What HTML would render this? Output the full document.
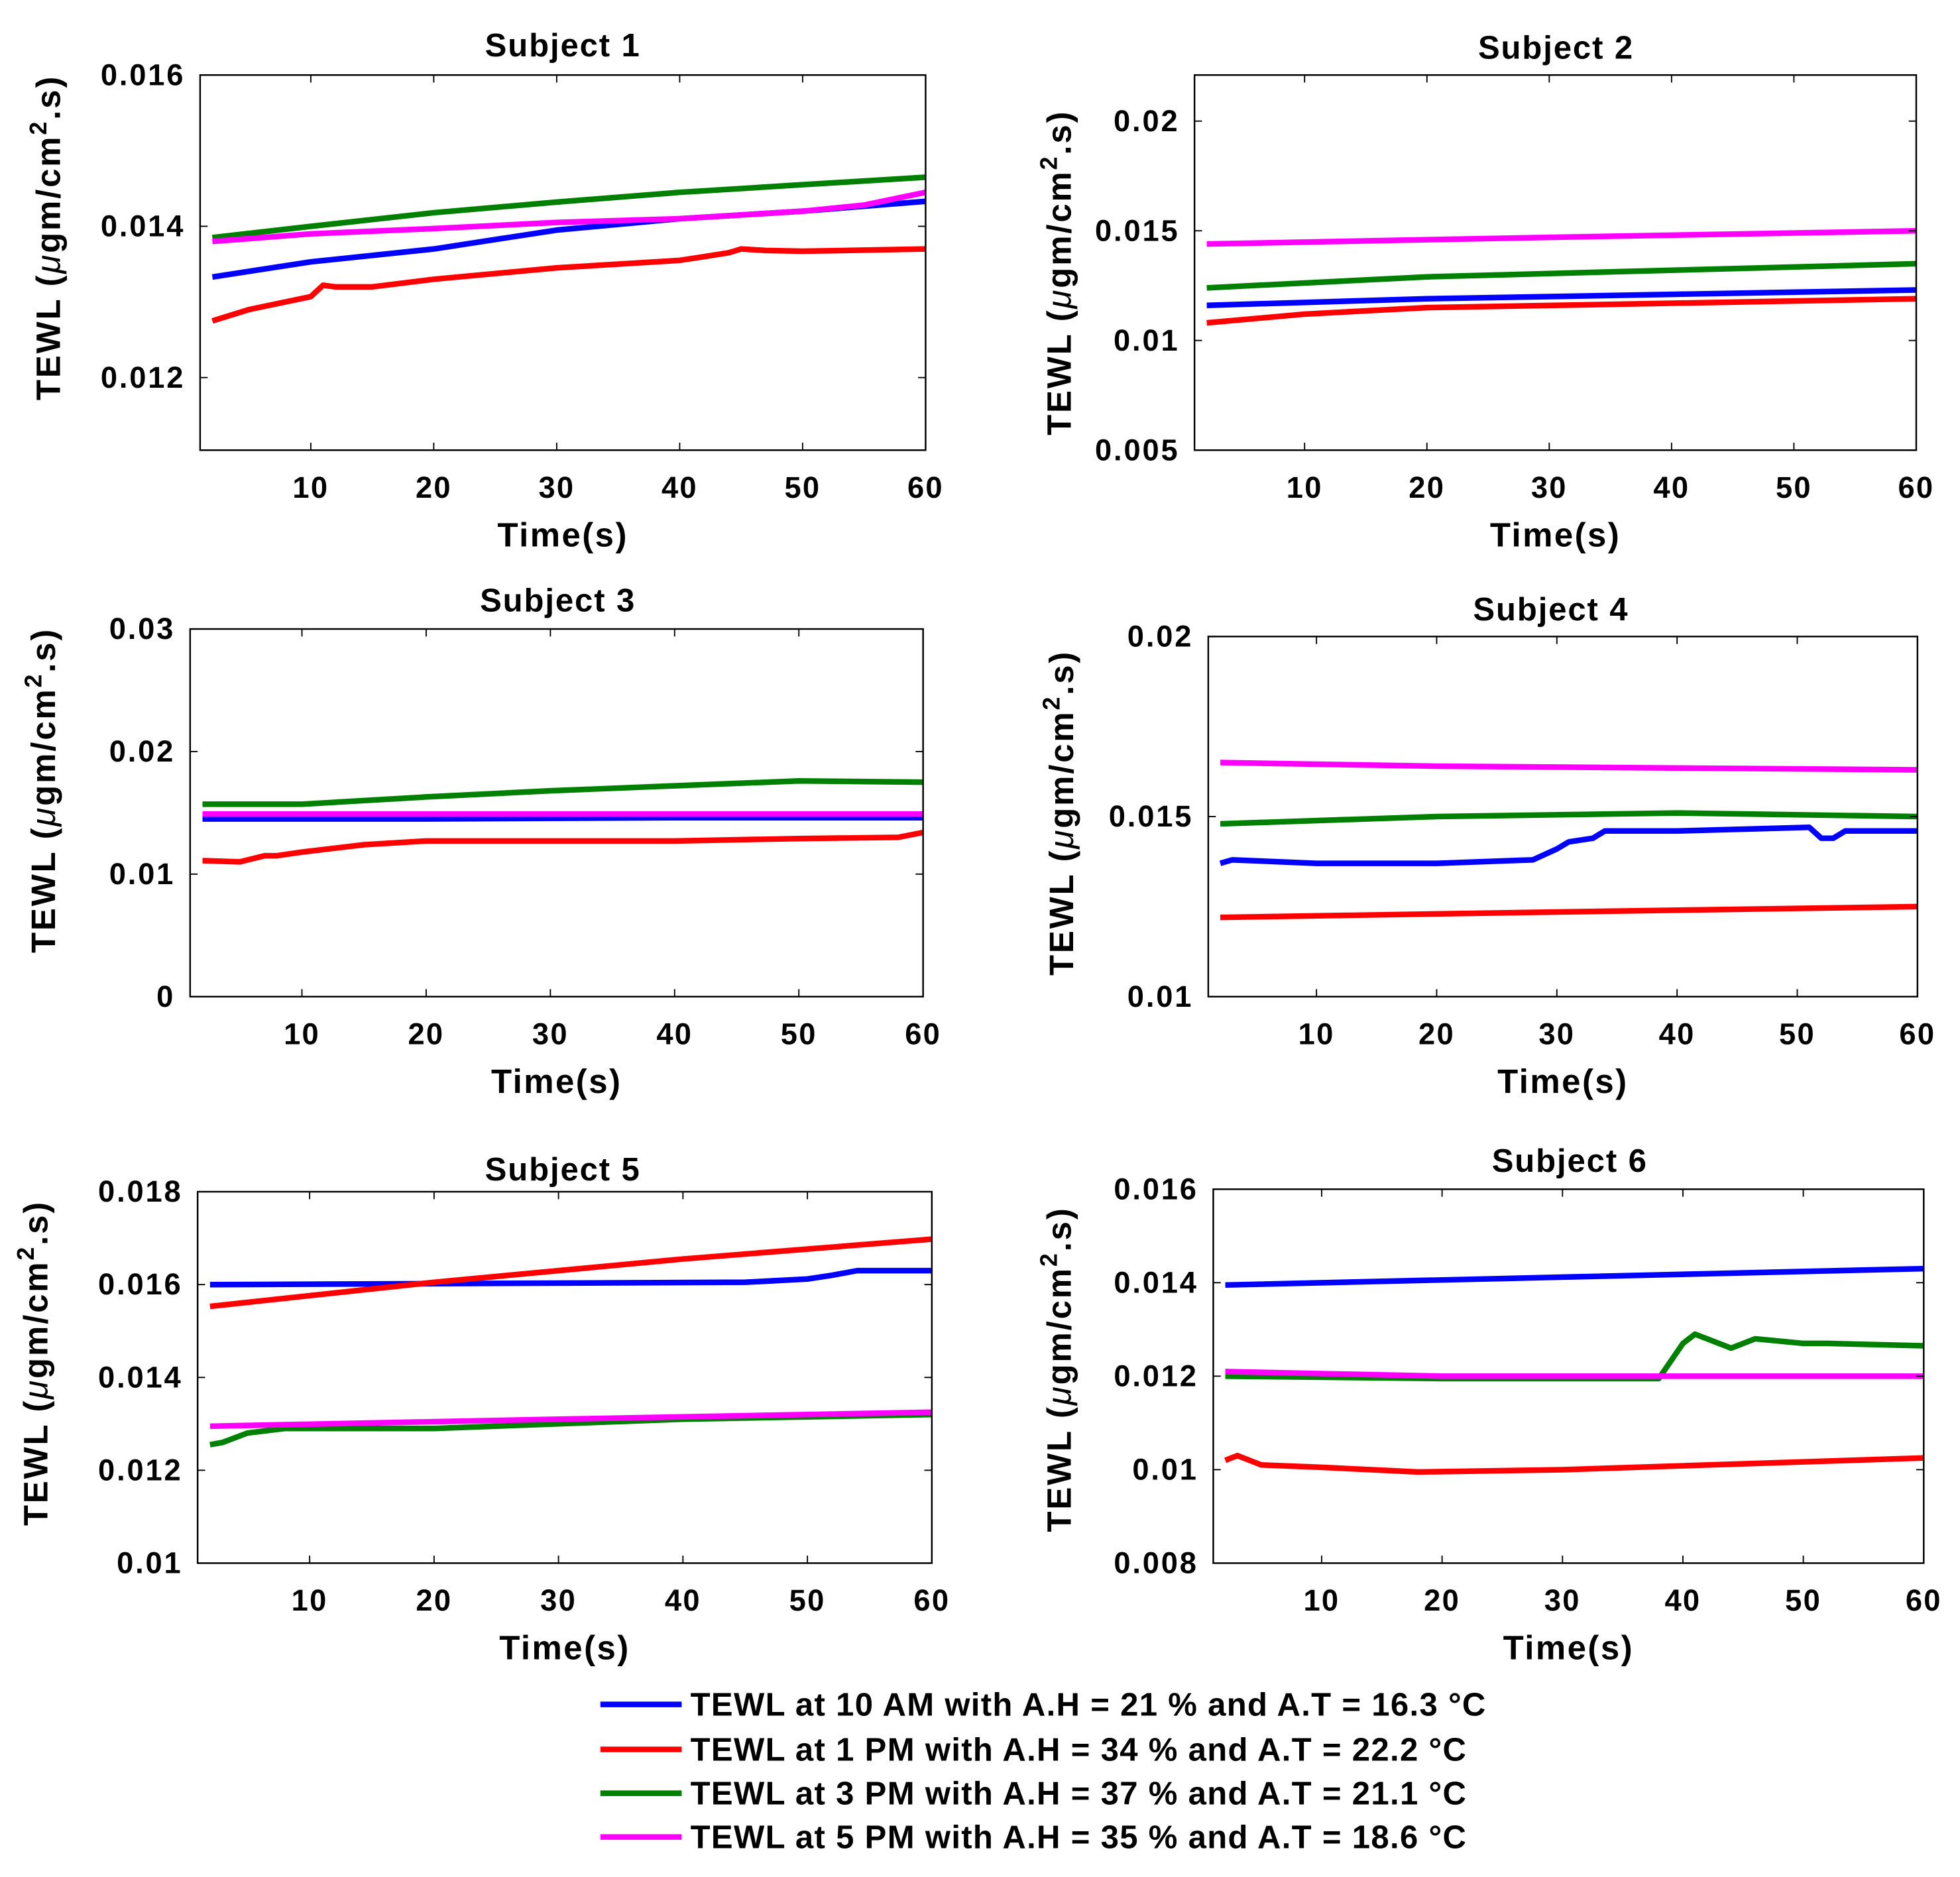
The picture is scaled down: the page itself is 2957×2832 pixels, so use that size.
<!DOCTYPE html>
<html><head><meta charset="utf-8">
<style>
html,body{margin:0;padding:0;background:#fff;}
svg{display:block;font-family:"Liberation Sans",Arial,sans-serif;font-weight:bold;}
</style></head>
<body>
<svg id="fig" width="2957" height="2832" viewBox="0 0 1567 1501" preserveAspectRatio="none" xmlns="http://www.w3.org/2000/svg"></svg>
<script>
// ---- data ----
const subjectTitles = ["Subject 1","Subject 2","Subject 3","Subject 4","Subject 5","Subject 6"];
const seriesColors = ["#0000ff","#ff0000","#008000","#ff00ff"];
const legendLabels = ["TEWL at 10 AM with A.H = 21 % and A.T = 16.3 \u00B0C","TEWL at 1 PM with A.H = 34 % and A.T = 22.2 \u00B0C","TEWL at 3 PM with A.H = 37 % and A.T = 21.1 \u00B0C","TEWL at 5 PM with A.H = 35 % and A.T = 18.6 \u00B0C"];
const xTicks = [10,20,30,40,50,60];
const yTicks1 = [0.012,0.014,0.016];
const yTicks2 = [0.005,0.01,0.015,0.02];
const yTicks3 = [0,0.01,0.02,0.03];
const yTicks4 = [0.01,0.015,0.02];
const yTicks5 = [0.01,0.012,0.014,0.016,0.018];
const yTicks6 = [0.008,0.01,0.012,0.014,0.016];
const yDomains = [[0.01104,0.016],[0.005,0.0221],[0,0.03],[0.01,0.02],[0.01,0.018],[0.008,0.016]];

// Subject 1
const s1BlueX=[2,10,20,30,40,50,60], s1BlueY=[0.01333,0.01353,0.0137,0.01395,0.0141,0.0142,0.01433];
const s1RedX=[2,5,10,11,12,15,20,30,40,42,44,45,47,50,60], s1RedY=[0.01275,0.0129,0.01307,0.01322,0.0132,0.0132,0.0133,0.01345,0.01355,0.0136,0.01365,0.0137,0.01368,0.01367,0.0137];
const s1GreenX=[2,10,20,30,40,50,60], s1GreenY=[0.01385,0.014,0.01418,0.01432,0.01445,0.01455,0.01465];
const s1MagX=[2,10,20,30,40,50,55,60], s1MagY=[0.0138,0.0139,0.01397,0.01405,0.0141,0.0142,0.01428,0.01445];
// Subject 2
const s2BlueX=[2,20,40,60], s2BlueY=[0.0116,0.0119,0.0121,0.0123];
const s2RedX=[2,10,20,40,60], s2RedY=[0.0108,0.0112,0.0115,0.0117,0.0119];
const s2GreenX=[2,20,40,60], s2GreenY=[0.0124,0.0129,0.0132,0.0135];
const s2MagX=[2,30,60], s2MagY=[0.0144,0.0147,0.015];
// Subject 3
const s3BlueX=[2,20,40,60], s3BlueY=[0.0145,0.0145,0.0146,0.0146];
const s3RedX=[2,5,7,8,10,15,20,30,40,50,58,60], s3RedY=[0.0111,0.011,0.0115,0.0115,0.0118,0.0124,0.0127,0.0127,0.0127,0.0129,0.013,0.0134];
const s3GreenX=[2,10,20,30,40,50,60], s3GreenY=[0.0157,0.0157,0.0163,0.0168,0.0172,0.0176,0.0175];
const s3MagX=[2,30,60], s3MagY=[0.0149,0.0149,0.0149];
// Subject 4
const s4BlueX=[2,3,10,20,28,30,31,33,34,40,51,52,53,54,60], s4BlueY=[0.0137,0.0138,0.0137,0.0137,0.0138,0.0141,0.0143,0.0144,0.0146,0.0146,0.0147,0.0144,0.0144,0.0146,0.0146];
const s4RedX=[2,30,60], s4RedY=[0.0122,0.01235,0.0125];
const s4GreenX=[2,20,40,60], s4GreenY=[0.0148,0.015,0.0151,0.015];
const s4MagX=[2,20,60], s4MagY=[0.0165,0.0164,0.0163];
// Subject 5
const s5BlueX=[2,45,50,52,54,60], s5BlueY=[0.016,0.01605,0.01612,0.0162,0.0163,0.0163];
const s5RedX=[2,20,40,60], s5RedY=[0.01553,0.01605,0.01655,0.01698];
const s5GreenX=[2,3,5,8,20,40,60], s5GreenY=[0.01255,0.0126,0.0128,0.0129,0.0129,0.0131,0.0132];
const s5MagX=[2,30,60], s5MagY=[0.01295,0.0131,0.01325];
// Subject 6
const s6BlueX=[2,30,60], s6BlueY=[0.01395,0.01412,0.0143];
const s6RedX=[2,3,5,10,18,30,60], s6RedY=[0.0102,0.0103,0.0101,0.01005,0.00995,0.01,0.01025];
const s6GreenX=[2,20,38,40,41,43,44,46,50,52,60], s6GreenY=[0.012,0.01195,0.01195,0.0127,0.0129,0.0127,0.0126,0.0128,0.0127,0.0127,0.01265];
const s6MagX=[2,20,60], s6MagY=[0.0121,0.012,0.012];

const panelSeries=[
 [[s1BlueX,s1BlueY],[s1RedX,s1RedY],[s1GreenX,s1GreenY],[s1MagX,s1MagY]],
 [[s2BlueX,s2BlueY],[s2RedX,s2RedY],[s2GreenX,s2GreenY],[s2MagX,s2MagY]],
 [[s3BlueX,s3BlueY],[s3RedX,s3RedY],[s3GreenX,s3GreenY],[s3MagX,s3MagY]],
 [[s4BlueX,s4BlueY],[s4RedX,s4RedY],[s4GreenX,s4GreenY],[s4MagX,s4MagY]],
 [[s5BlueX,s5BlueY],[s5RedX,s5RedY],[s5GreenX,s5GreenY],[s5MagX,s5MagY]],
 [[s6BlueX,s6BlueY],[s6RedX,s6RedY],[s6GreenX,s6GreenY],[s6MagX,s6MagY]]
];
const yTickSets=[yTicks1,yTicks2,yTicks3,yTicks4,yTicks5,yTicks6];
const yTickLabels=[["0.012","0.014","0.016"],["0.005","0.01","0.015","0.02"],["0","0.01","0.02","0.03"],["0.01","0.015","0.02"],["0.01","0.012","0.014","0.016","0.018"],["0.008","0.01","0.012","0.014","0.016"]];

// layout (display coordinates)
const boxes=[{x0:160,x1:740,y0:60,y1:360},{x0:955,x1:1532,y0:60,y1:360},{x0:152,x1:738,y0:503,y1:797},{x0:966,x1:1533,y0:509,y1:797},{x0:158,x1:745,y0:953,y1:1250},{x0:970,x1:1538,y0:951,y1:1250}];
const titlePos=[[450,45],[1244,47],[446,489],[1240,496],[450,944],[1255,937]];
const ylabX=[48,856,44,858,38,856];
const ylabY=[190,218,632,650,1090,1095];

const NS="http://www.w3.org/2000/svg";
const svg=document.getElementById('fig');
function mk(tag,attrs,parent){const e=document.createElementNS(NS,tag);for(const k in attrs)e.setAttribute(k,attrs[k]);(parent||svg).appendChild(e);return e;}

for(let p=0;p<6;p++){
  const b=boxes[p], dom=yDomains[p];
  const sx=v=>b.x0+(v-1)/59*(b.x1-b.x0);
  const sy=v=>b.y1-(v-dom[0])/(dom[1]-dom[0])*(b.y1-b.y0);
  const g=mk('g',{});
  
  
  panelSeries[p].forEach((s,i)=>{
    const pts=s[0].map((x,k)=>sx(x).toFixed(1)+','+sy(s[1][k]).toFixed(1)).join(' ');
    const pl=mk('polyline',{points:pts,fill:'none',stroke:seriesColors[i],'stroke-width':4.5,'stroke-linejoin':'round'},g);
    
    
  });
  const r=mk('rect',{x:b.x0,y:b.y0,width:b.x1-b.x0,height:b.y1-b.y0,fill:'none',stroke:'#000','stroke-width':1.3},g);
  
  
  xTicks.forEach(t=>{
    const x=sx(t);
    mk('line',{x1:x,x2:x,y1:b.y1,y2:b.y1-6,stroke:'#000','stroke-width':1},g);
    mk('line',{x1:x,x2:x,y1:b.y0,y2:b.y0+6,stroke:'#000','stroke-width':1},g);
    const tx=mk('text',{x:x,y:b.y1+38,'text-anchor':'middle','font-size':24,'letter-spacing':1.2},g);
    tx.textContent=t;
    
    
  });
  yTickSets[p].forEach((t,k)=>{
    const y=sy(t);
    mk('line',{x1:b.x0,x2:b.x0+6,y1:y,y2:y,stroke:'#000','stroke-width':1},g);
    mk('line',{x1:b.x1,x2:b.x1-6,y1:y,y2:y,stroke:'#000','stroke-width':1},g);
    const tx=mk('text',{x:b.x0-12,y:y+8,'text-anchor':'end','font-size':24,'letter-spacing':1.5},g);
    tx.textContent=yTickLabels[p][k];
    
    
  });
  const tt=mk('text',{x:titlePos[p][0],y:titlePos[p][1],'text-anchor':'middle','font-size':26,'letter-spacing':1},g);
  tt.textContent=subjectTitles[p];
  
  
  const xl=mk('text',{x:(b.x0+b.x1)/2,y:b.y1+77,'text-anchor':'middle','font-size':27,'letter-spacing':1.3},g);
  xl.textContent='Time(s)';
  
  
  const cy=ylabY[p];
  const yl=mk('text',{x:ylabX[p],y:cy,'text-anchor':'middle','font-size':27,'letter-spacing':1.5,transform:'rotate(-90 '+ylabX[p]+' '+cy+')'},g);
  yl.innerHTML='TEWL (<tspan font-style="italic" font-weight="normal">\u03BC</tspan>gm/cm<tspan dy="-11" font-size="19">2</tspan><tspan dy="11">.s)</tspan>';
  
  
}
// legend
const lg=mk('g',{});


const legendY=[1363,1399,1434,1469];
legendLabels.forEach((l,i)=>{
  const e=mk('g',{},lg);
  
  
  mk('line',{x1:480,x2:545,y1:legendY[i],y2:legendY[i],stroke:seriesColors[i],'stroke-width':4.5},e);
  const t=mk('text',{x:552,y:legendY[i]+9,'font-size':26,'letter-spacing':0.7},e);
  t.textContent=l;
});
</script>
</body></html>
